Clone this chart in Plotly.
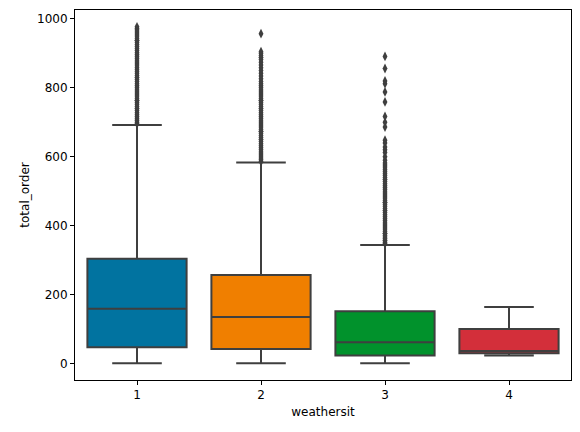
import plotly.graph_objects as go

# weathersit categories and box statistics
categories = ['1', '2', '3', '4']
q1 = [47, 42, 23, 29.5]
median = [159, 135, 62, 36]
q3 = [304, 257, 152, 100]
lower = [1, 1, 1, 23]
upper = [692, 583, 344, 164]
colors = ['#0173a0', '#f07f00', '#01922c', '#d32f3a']

# outliers (fliers) per category
fliers_1 = [696, 700, 705, 710, 716, 722, 728, 734, 740, 746, 752, 758, 764, 770, 776, 782,
            788, 794, 800, 806, 812, 818, 824, 830, 836, 842, 848, 854, 860, 866, 872, 878,
            884, 890, 896, 902, 908, 914, 920, 926, 932, 938, 944, 950, 956, 962, 968, 972, 977]
fliers_2 = [586, 591, 596, 602, 608, 614, 620, 626, 632, 638, 644, 650, 656, 662, 668, 674,
            680, 686, 692, 698, 704, 710, 716, 722, 728, 734, 740, 746, 752, 758, 764, 770,
            776, 782, 788, 794, 800, 806, 812, 818, 826, 834, 842, 850, 858, 866, 874, 882,
            888, 894, 900, 905, 957]
fliers_3 = [348, 352, 357, 362, 367, 372, 378, 384, 390, 396, 402, 408, 414, 420, 426, 432,
            438, 444, 450, 456, 462, 468, 474, 480, 486, 492, 498, 504, 510, 516, 522, 528,
            534, 540, 546, 552, 558, 564, 570, 576, 582, 590, 600, 612, 620, 628, 640, 648,
            686, 700, 717, 759, 788, 812, 820, 856, 891]
fliers = [fliers_1, fliers_2, fliers_3, []]

edge = '#3f3f3f'

fig = go.Figure()

for i in range(len(categories)):
    fig.add_trace(go.Box(
        x=[i], q1=[q1[i]], median=[median[i]], q3=[q3[i]],
        lowerfence=[lower[i]], upperfence=[upper[i]],
        width=0.8, whiskerwidth=0.5, boxpoints=False,
        fillcolor=colors[i], line=dict(color=edge, width=2),
        showlegend=False, hoverinfo='skip'))
    if fliers[i]:
        fig.add_trace(go.Scatter(
            x=[i] * len(fliers[i]), y=fliers[i], mode='markers',
            marker=dict(symbol='diamond-tall', size=7, color=edge),
            showlegend=False, hoverinfo='skip'))

fnt = dict(family='DejaVu Sans', size=12, color='black')

# page body adds an 8px offset, so the figure is a bit smaller than the window
fig.update_layout(
    width=572, height=424,
    margin=dict(l=67, r=9, t=2, b=52),
    paper_bgcolor='white', plot_bgcolor='white',
    font=fnt,
)

fig.update_xaxes(
    range=[-0.5, 3.5], tickvals=[0, 1, 2, 3], ticktext=categories,
    showline=True, linecolor='black', linewidth=1, mirror=True,
    ticks='outside', ticklen=4, tickcolor='black', showgrid=False, zeroline=False,
    tickfont=fnt, automargin=False,
    title=dict(text='weathersit', standoff=6, font=fnt),
)
fig.update_yaxes(
    range=[-47.8, 1025.8], tickvals=[0, 200, 400, 600, 800, 1000],
    showline=True, linecolor='black', linewidth=1, mirror=True,
    ticks='outside', ticklen=4, tickcolor='black', showgrid=False, zeroline=False,
    tickfont=fnt, automargin=False,
    title=dict(text='total_order', standoff=4, font=fnt),
)

fig.write_html('out.html')
